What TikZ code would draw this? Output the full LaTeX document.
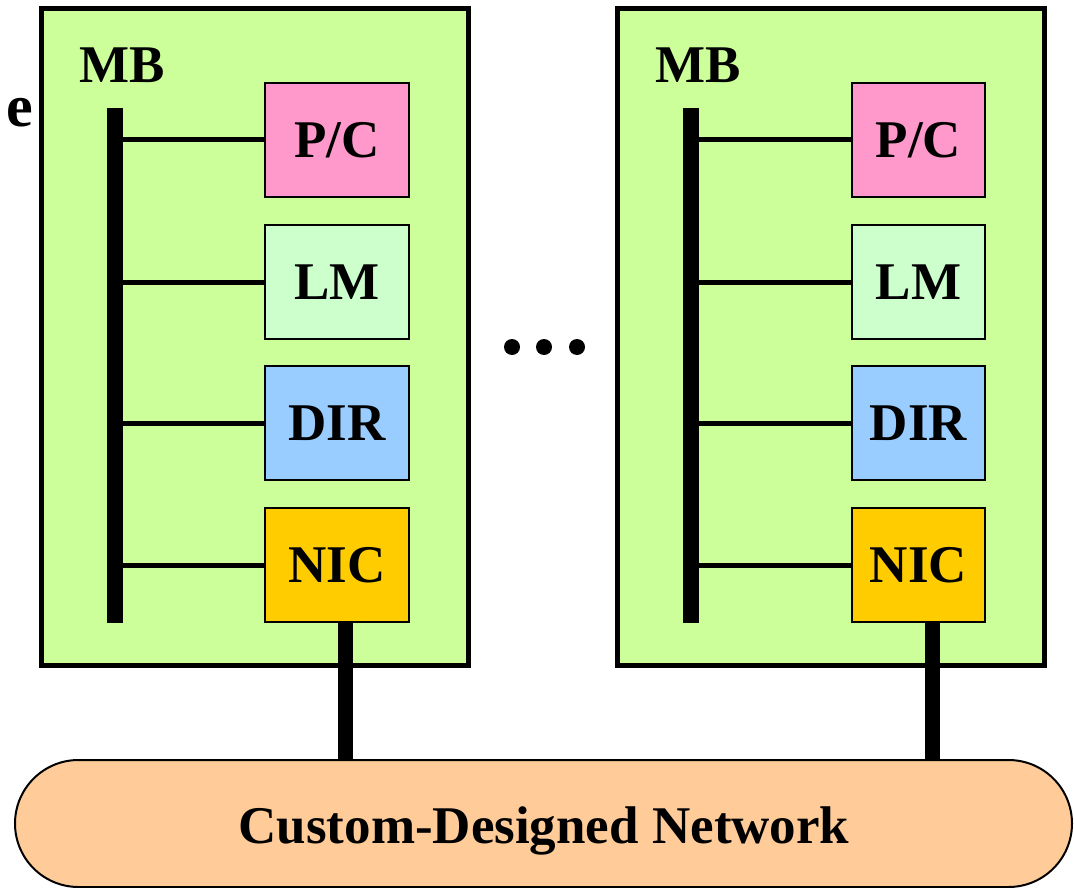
\documentclass[tikz,border=0pt]{standalone}
\usepackage{fontspec}
\setmainfont{Liberation Serif}
\usetikzlibrary{calc}
\definecolor{boardgreen}{HTML}{CCFF99}
\definecolor{pccol}{HTML}{FF99CC}
\definecolor{lmcol}{HTML}{CCFFCC}
\definecolor{dircol}{HTML}{99CCFF}
\definecolor{niccol}{HTML}{FFCC00}
\definecolor{netcol}{HTML}{FFCC99}
\tikzset{
    % Boards, the parts on them and the wires between
    board/.style={draw,line width=5,fill=boardgreen,inner sep=0,minimum width=426.5,minimum height=656.5}, part/.style={draw,line width=2,inner sep=0,minimum height=114},
    bus/.style={line width=16}, branch/.style={line width=5}, link/.style={line width=15},
    dot/.style={circle,fill=black,inner sep=0,minimum size=16}
    }
\begin{document}
\begin{tikzpicture}[x=1pt,y=-1pt,font=\fontsize{53}{60}\selectfont\bfseries] % one unit is one pixel
        \clip (0,0) rectangle (1074,888);
        \node(lbl)[anchor=base east,inner sep=0,font=\fontsize{60}{66}\selectfont\bfseries] at (33,127){e};
        % The two boards
        \node(b1)[board] at (254.75,336.75){};
        \node(b2)[board] at (831,336.75){};
        \node(mb1)[anchor=base west,inner sep=0] at (79,83){MB};
        \node(mb2)[anchor=base west,inner sep=0] at (655,83){MB};
        % parts of the left board
        \node(pc1)[part,fill=pccol,minimum width=144] at (337,140){P/C};
        \node(lm1)[part,fill=lmcol,minimum width=144] at (337,282){LM};
        \node(dir1)[part,fill=dircol,minimum width=144] at (337,423){DIR};
        \node(nic1)[part,fill=niccol,minimum width=144] at (337,565){NIC};
        % parts of the right board
        \node(pc2)[part,fill=pccol,minimum width=133] at (918.5,140){P/C};
        \node(lm2)[part,fill=lmcol,minimum width=133] at (918.5,282){LM};
        \node(dir2)[part,fill=dircol,minimum width=133] at (918.5,423){DIR};
        \node(nic2)[part,fill=niccol,minimum width=133] at (918.5,565){NIC};
        % memory buses
        \coordinate(top1) at (115,108); \coordinate(bot1) at (115,623);
        \coordinate(top2) at (691,108); \coordinate(bot2) at (691,623);
        \foreach \p in {pc1,lm1,dir1,nic1} \draw[branch] (\p.west -| top1) -- (\p.west);
        \foreach \p in {pc2,lm2,dir2,nic2} \draw[branch] (\p.west -| top2) -- (\p.west);
        \draw[bus] (top1) -- (bot1);
        \draw[bus] (top2) -- (bot2);
        % dots between the boards
        \foreach \x [count=\i] in {512,544,577} \node(d\i)[dot] at (\x,347){};
        % the network
        \node(net)[draw,line width=2,fill=netcol,rounded corners=63.5,minimum width=1057,minimum height=127,inner sep=0] at (543.5,823.5){};
        \node(netlbl)[anchor=base,inner sep=0] at (544,843){Custom-Designed Network};
        \coordinate(tap1) at (345.5,760); \coordinate(tap2) at (932,760);
        \draw[link] (tap1 |- nic1.south) -- (tap1);
        \draw[link] (tap2 |- nic2.south) -- (tap2);
    \end{tikzpicture}
\end{document}
